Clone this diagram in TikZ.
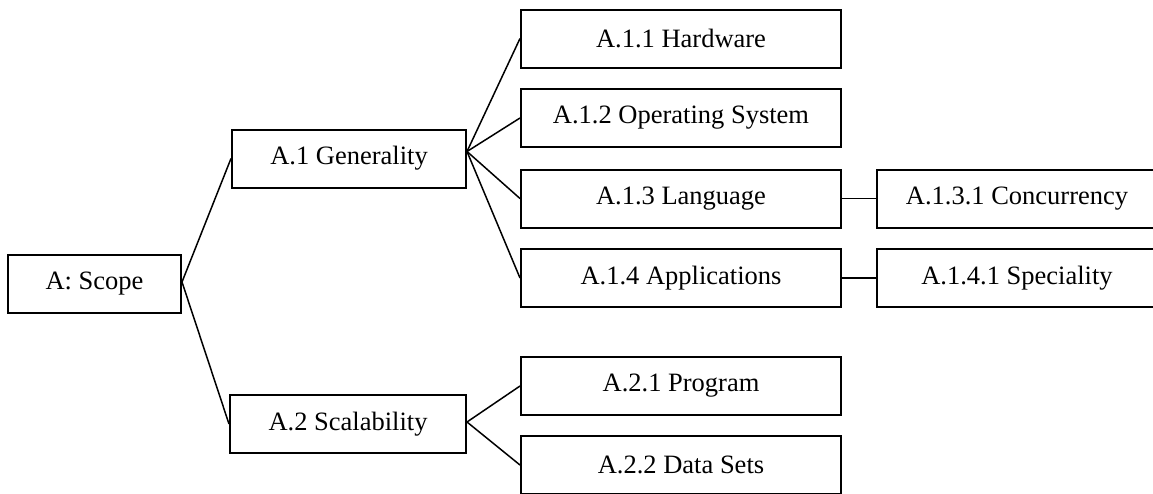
\documentclass[tikz,border=0pt]{standalone}
\usepackage{fontspec}
\setmainfont{Liberation Serif}
\begin{document}
\begin{tikzpicture}[x=1pt,y=-1pt,
  box/.style={draw=black, line width=2pt, fill=white, inner sep=0pt,
    font=\fontsize{26.5}{30}\selectfont, minimum height=58pt},
  link/.style={draw=black, line width=1.5pt}]
\useasboundingbox (0,0) rectangle (1153,493);
\clip (0,0) rectangle (1153,493);

% root
\node[box, minimum width=173pt] (A) at (94.5,284) {A: Scope};

% level 1
\node[box, minimum width=234pt] (A1) at (349,158.5) {A.1 Generality};
\node[box, minimum width=236pt] (A2) at (348,424) {A.2 Scalability};

% level 2
\node[box, minimum width=320pt] (A11) at (681,38.5) {A.1.1 Hardware};
\node[box, minimum width=320pt] (A12) at (681,118) {A.1.2 Operating System};
\node[box, minimum width=320pt] (A13) at (681,198.5) {A.1.3 Language};
\node[box, minimum width=320pt] (A14) at (681,278) {A.1.4 Applications};
\node[box, minimum width=320pt] (A21) at (681,386) {A.2.1 Program};
\node[box, minimum width=320pt] (A22) at (681,465) {A.2.2 Data Sets};

% level 3
\node[box, minimum width=280pt] (A131) at (1017,198.5) {A.1.3.1 Concurrency};
\node[box, minimum width=280pt] (A141) at (1017,278) {A.1.4.1 Speciality};

% connectors
\coordinate (A1hub) at ([yshift=7pt]A1.east);
\draw[link] ([yshift=2pt]A.east) -- (A1.west);
\draw[link] ([yshift=2pt]A.east) -- (A2.west);
\draw[link] (A1hub) -- (A11.west);
\draw[link] (A1hub) -- (A12.west);
\draw[link] (A1hub) -- (A13.west);
\draw[link] (A1hub) -- (A14.west);
\draw[link] ([yshift=2pt]A2.east) -- (A21.west);
\draw[link] ([yshift=2pt]A2.east) -- (A22.west);
\draw[link] (A13.east) -- (A131.west);
\draw[link] (A14.east) -- (A141.west);
\end{tikzpicture}
\end{document}
